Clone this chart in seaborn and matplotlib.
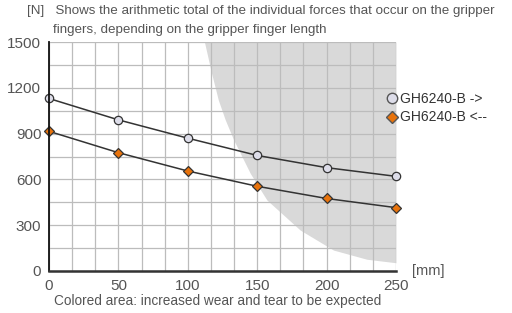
import numpy as np
import pandas as pd
import seaborn as sns
import matplotlib
matplotlib.use("Agg")
import matplotlib.pyplot as plt

# finger length [mm] and total force [N]
length = [0, 50, 100, 150, 200, 250]
force_out = [1130, 990, 870, 757, 677, 620]   # GH6240-B ->
force_in = [915, 775, 655, 555, 475, 415]     # GH6240-B <--

# boundary of the coloured (wear) area
wear_x = [112, 117, 122, 127, 133, 145, 157, 181, 205, 229, 250]
wear_y = [1500, 1300, 1120, 990, 860, 640, 465, 268, 137, 77, 54]

labels = ["GH6240-B ->", "GH6240-B <--"]

df = pd.DataFrame({
    "length": length * 2,
    "force": force_out + force_in,
    "series": [labels[0]] * len(length) + [labels[1]] * len(length),
})

sns.set_theme(style="white")
plt.rcParams["font.family"] = ["Liberation Sans", "DejaVu Sans"]
txt = "#555555"

fig = plt.figure(figsize=(5.12, 3.13), dpi=100)
ax = fig.add_axes([0.0957, 0.1342, 0.6777, 0.7316])

ax.fill_between(wear_x, wear_y, 1500, color="#d9d9d9", lw=0, zorder=0)

sns.lineplot(data=df, x="length", y="force", hue="series", style="series",
             markers=["o", "D"], dashes=False,
             palette=["#333333", "#333333"], linewidth=1.1,
             markersize=6, markeredgecolor="#333333", markeredgewidth=0.9,
             legend=False, ax=ax, zorder=3, clip_on=False)
# marker faces
ax.lines[0].set_markerfacecolor("#dddde9")
ax.lines[1].set_markerfacecolor("#e8730c")
ax.lines[1].set_markersize(5.5)

ax.set_xlim(0, 250)
ax.set_ylim(0, 1500)
ax.set_xticks(np.arange(0, 251, 50))
ax.set_yticks(np.arange(0, 1501, 300))
ax.set_xticks(np.linspace(0, 250, 16), minor=True)
ax.set_yticks(np.arange(0, 1501, 150), minor=True)
ax.grid(which="both", color="#bcbcbc", linewidth=0.9, zorder=1)
ax.set_axisbelow(True)
ax.set_xlabel("")
ax.set_ylabel("")

for s in ["top", "right"]:
    ax.spines[s].set_visible(False)
ax.spines["left"].set_color("#111111")
ax.spines["bottom"].set_color("#333333")
ax.spines["left"].set_linewidth(1.3)
ax.spines["bottom"].set_linewidth(1.8)
ax.spines["left"].set_zorder(4)
ax.spines["bottom"].set_zorder(4)

ax.tick_params(axis="both", which="major", direction="out", length=4,
               width=1, color="#222222", labelsize=11, labelcolor=txt, pad=1.5)
ax.tick_params(axis="both", which="minor", length=0)

# legend
h1 = plt.Line2D([], [], marker="o", ls="none", markersize=7.5,
                markerfacecolor="#dddde9", markeredgecolor="#555555")
h2 = plt.Line2D([], [], marker="D", ls="none", markersize=6,
                markerfacecolor="#e8730c", markeredgecolor="#555555")
leg = fig.legend([h1, h2], labels, loc="upper left",
                 bbox_to_anchor=(0.725, 0.745), frameon=False, fontsize=10,
                 handletextpad=0.0, labelspacing=0.3, handlelength=1.2,
                 labelcolor="#333333")

fig.text(0.053, 0.965, "[N]   Shows the arithmetic total of the individual forces that occur on the gripper",
         fontsize=9.6, color=txt, va="center")
fig.text(0.103, 0.903, "fingers, depending on the gripper finger length",
         fontsize=9.6, color=txt, va="center")
fig.text(0.805, 0.135, "[mm]", fontsize=10.5, color=txt, va="center")
fig.text(0.425, 0.038, "Colored area: increased wear and tear to be expected",
         fontsize=9.8, color=txt, ha="center", va="center")

fig.savefig("out.png", dpi=100)
